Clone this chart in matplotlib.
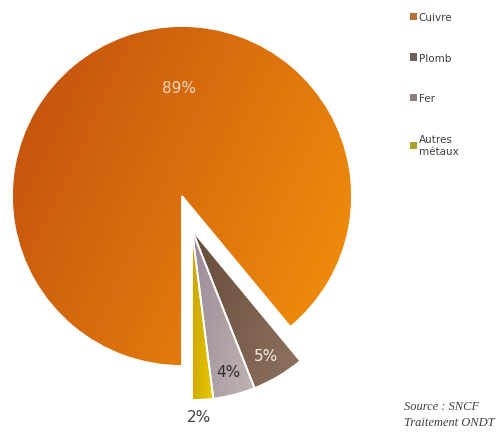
import numpy as np
import matplotlib
matplotlib.use("Agg")
import matplotlib.pyplot as plt
from matplotlib.colors import LinearSegmentedColormap
from matplotlib.patches import Patch

# Répartition des métaux (source SNCF)
labels = ["Cuivre", "Plomb", "Fer", "Autres\nmétaux"]
shares = [89, 5, 4, 2]
legend_colors = ["#B8703A", "#6F625A", "#8C7E7C", "#A8A428"]
grad_colors = [("#C04E0E", "#F4920C"), ("#664A3A", "#8E7460"),
               ("#9A8A9A", "#C0B4B0"), ("#C8A200", "#E8C800")]
pct_colors = ["#F8D8C0", "#F4ECE4", "#303030", "#404040"]


def fill_gradient(ax, wedge, c0, c1, angle_deg, zorder):
    """Fill a wedge with a linear gradient clipped to its shape."""
    ext = wedge.get_path().get_extents()
    xs = np.linspace(0, 1, 120)
    ys = np.linspace(0, 1, 120)
    X, Y = np.meshgrid(xs, ys)
    a = np.deg2rad(angle_deg)
    t = X * np.cos(a) + Y * np.sin(a)
    t = (t - t.min()) / (t.max() - t.min())
    cmap = LinearSegmentedColormap.from_list("g", [c0, c1])
    im = ax.imshow(t, cmap=cmap, origin="lower", aspect="auto",
                   extent=(ext.x0, ext.x1, ext.y0, ext.y1), zorder=zorder,
                   interpolation="bilinear")
    im.set_clip_path(wedge)
    return im


fig = plt.figure(figsize=(5.04, 4.35), dpi=100)
ax = fig.add_axes([0, 0, 1, 1])

cx, cy, radius = 182, 238, 170
wedges, texts, autotexts = ax.pie(
    shares, center=(cx, cy), radius=radius, startangle=270,
    counterclock=False, autopct=lambda p: f"{p:.0f}%", pctdistance=0.86,
    wedgeprops=dict(edgecolor="white", linewidth=1.3),
    textprops=dict(fontsize=11),
)

# the small slices are pulled out together, as one block
shift = (10, -34)
for w, t in zip(wedges[1:], autotexts[1:]):
    w.set_center((cx + shift[0], cy + shift[1]))
    x, y = t.get_position()
    t.set_position((x + shift[0], y + shift[1]))

autotexts[0].set_position((cx - 3, cy + 0.64 * radius))
autotexts[3].set_position((cx + shift[0] + 0.04 * radius, cy + shift[1] - 1.1 * radius))

for w, (c0, c1) in zip(wedges, grad_colors):
    w.set_facecolor("none")
    w.set_zorder(3)
    fill_gradient(ax, w, c0, c1, -25, zorder=2)

for t, c in zip(autotexts, pct_colors):
    t.set_color(c)
    t.set_zorder(5)

handles = [Patch(facecolor=c, edgecolor="none") for c in legend_colors]
leg = ax.legend(handles, labels, loc="upper left", bbox_to_anchor=(0.805, 0.98),
                frameon=False, fontsize=7.5, handlelength=0.7, handleheight=0.7,
                handletextpad=0.15, labelspacing=2.95, borderaxespad=0)
for txt in leg.get_texts():
    txt.set_color("#404040")

ax.text(404, 20, "Source : SNCF\nTraitement ONDT", fontsize=9,
        family="Liberation Serif", style="italic", color="#404040",
        linespacing=1.45, va="center", ha="left")

ax.set_xlim(0, 504)
ax.set_ylim(0, 435)
ax.axis("off")

fig.savefig("out.png", dpi=100)
